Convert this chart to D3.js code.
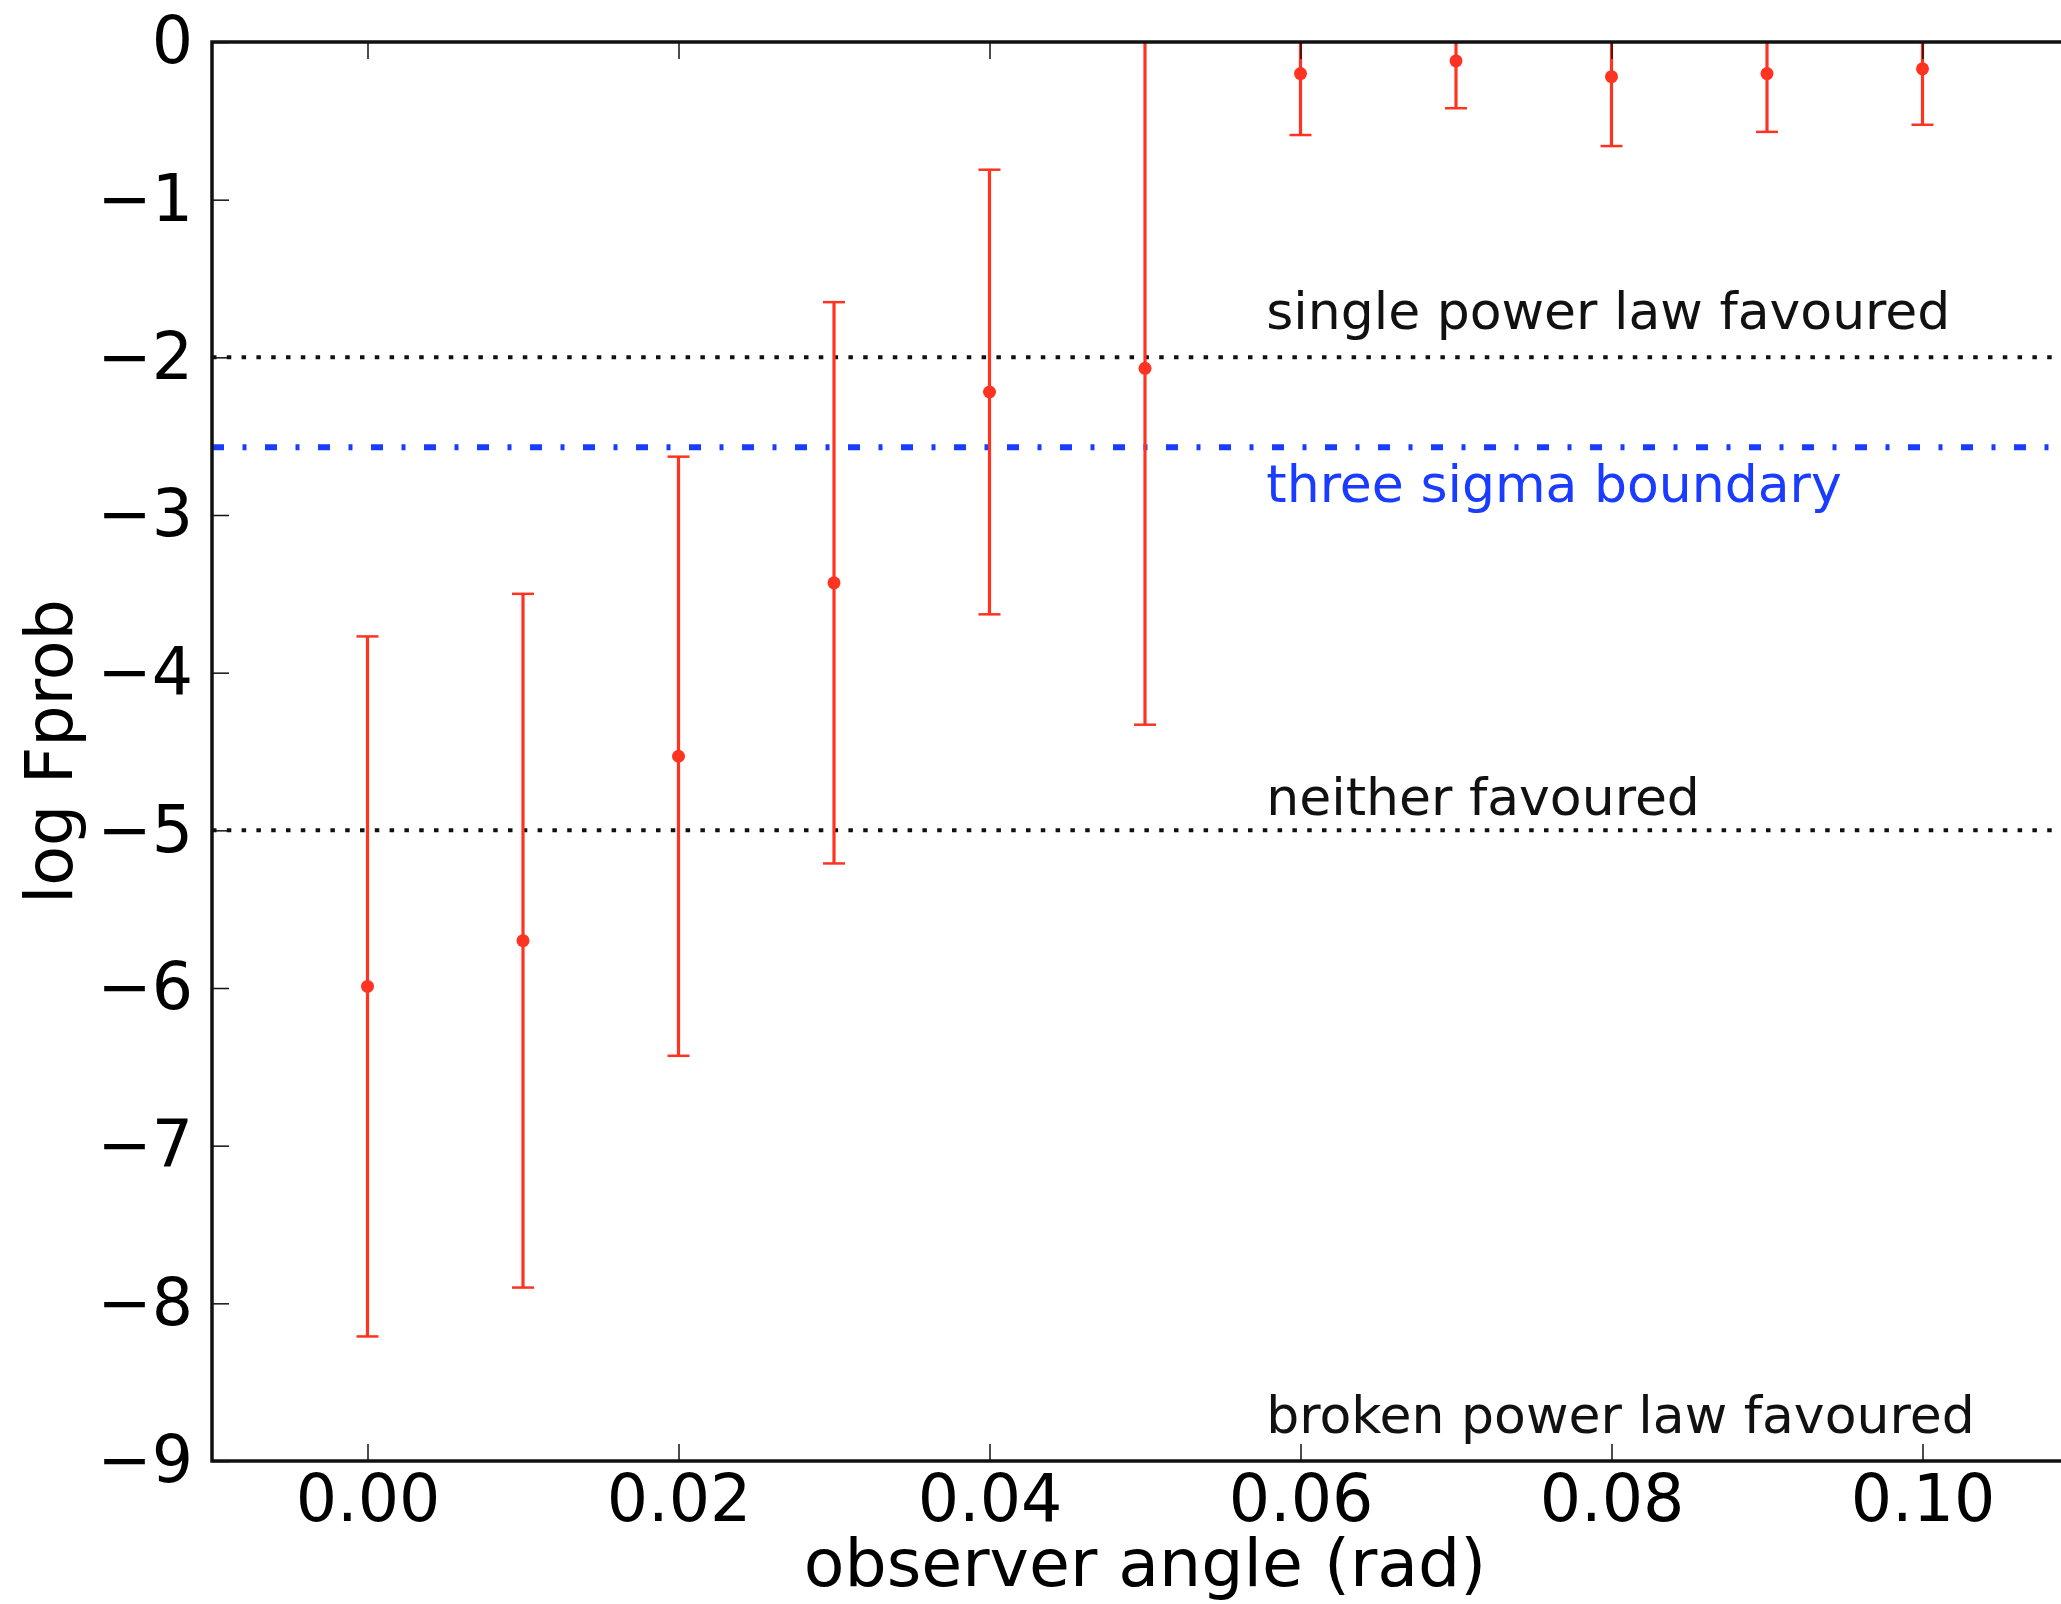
<!doctype html>
<html>
<head>
<meta charset="utf-8">
<script src="https://cdn.jsdelivr.net/npm/d3@7"></script>
<style>
  html, body { margin: 0; padding: 0; background: #fff; }
  svg { display: block; font-family: "DejaVu Sans", sans-serif; }
</style>
</head>
<body>
<script>
// Data.
const angles = [0.00, 0.01, 0.02, 0.03, 0.04, 0.05, 0.06, 0.07, 0.08, 0.09, 0.10];
const logFprob = [-5.99, -5.70, -4.53, -3.43, -2.22, -2.07, -0.20, -0.12, -0.22, -0.20, -0.17];
const errors = [2.22, 2.20, 1.90, 1.78, 1.41, 2.26, 0.39, 0.30, 0.44, 0.37, 0.355];

const xTicks = [0.00, 0.02, 0.04, 0.06, 0.08, 0.10];
const yTicks = [-9, -8, -7, -6, -5, -4, -3, -2, -1, 0];

// Reference lines and their labels.
const refLines = [
  {value: -2, kind: "dotted"},
  {value: -5, kind: "dotted"},
  {value: -2.57, kind: "dashdot"}
];
const notes = [
  {text: "single power law favoured", x: 0.0578, y: -1.82, blue: false},
  {text: "three sigma boundary", x: 0.0578, y: -2.92, blue: true},
  {text: "neither favoured", x: 0.0578, y: -4.9, blue: false},
  {text: "broken power law favoured", x: 0.0578, y: -8.82, blue: false}
];

const width = 2061;
const height = 1604;
const marginLeft = 212;
const marginTop = 42;
const plotBottom = 1461;

const x = d3.scaleLinear([-0.01, 0.11], [marginLeft, marginLeft + 0.12 * 15550]);
const y = d3.scaleLinear([-9, 0], [plotBottom, marginTop]);

const red = "#ff3322";
const blue = "#1a3cff";

const svg = d3.select("body").append("svg")
    .attr("width", width)
    .attr("height", height)
    .attr("viewBox", [0, 0, width, height]);

svg.append("clipPath").attr("id", "plot")
  .append("rect")
    .attr("x", x.range()[0])
    .attr("y", marginTop)
    .attr("width", x.range()[1] - x.range()[0])
    .attr("height", plotBottom - marginTop);

const plot = svg.append("g").attr("clip-path", "url(#plot)");

// Horizontal reference lines.
plot.append("g")
  .selectAll("line")
  .data(refLines)
  .join("line")
    .attr("x1", x.range()[0])
    .attr("x2", x.range()[1])
    .attr("y1", (d) => y(d.value))
    .attr("y2", (d) => y(d.value))
    .attr("stroke", (d) => d.kind === "dotted" ? "#111" : blue)
    .attr("stroke-width", (d) => d.kind === "dotted" ? 4 : 6)
    .attr("stroke-dasharray", (d) => d.kind === "dotted" ? "4.5 10.3" : "12 18.5 4 18.5");

// Error bars.
const bars = plot.append("g")
  .selectAll("g")
  .data(angles.map((a, i) => ({a, v: logFprob[i], e: errors[i]})))
  .join("g")
    .attr("stroke", red);

bars.append("line")
    .attr("x1", (d) => x(d.a))
    .attr("x2", (d) => x(d.a))
    .attr("y1", (d) => y(d.v - d.e))
    .attr("y2", (d) => y(d.v + d.e))
    .attr("stroke-width", 3.2);

bars.selectAll(".cap")
  .data((d) => [d.v - d.e, d.v + d.e].map((c) => ({a: d.a, c})))
  .join("line")
    .attr("class", "cap")
    .attr("x1", (d) => x(d.a) - 11)
    .attr("x2", (d) => x(d.a) + 11)
    .attr("y1", (d) => y(d.c))
    .attr("y2", (d) => y(d.c))
    .attr("stroke-width", 2.5);

bars.append("circle")
    .attr("cx", (d) => x(d.a))
    .attr("cy", (d) => y(d.v))
    .attr("r", 6.5)
    .attr("fill", red)
    .attr("stroke", "none");

// Annotations.
svg.append("g")
    .attr("font-size", 52)
  .selectAll("text")
  .data(notes)
  .join("text")
    .attr("x", (d) => x(d.x))
    .attr("y", (d) => y(d.y))
    .attr("fill", (d) => d.blue ? blue : "#111")
    .text((d) => d.text);

// Axes: inward ticks on all four sides, like matplotlib classic.
const tickLen = 17;
const fmtX = d3.format(".2f");
const fmtY = d3.format("d");

svg.append("g")
    .attr("transform", `translate(0,${plotBottom})`)
    .call(d3.axisBottom(x).tickValues(xTicks).tickFormat(fmtX).tickSizeInner(-tickLen).tickSizeOuter(0).tickPadding(14))
    .call((g) => g.select(".domain").remove());

svg.append("g")
    .attr("transform", `translate(0,${marginTop})`)
    .call(d3.axisTop(x).tickValues(xTicks).tickFormat("").tickSizeInner(-tickLen).tickSizeOuter(0))
    .call((g) => g.select(".domain").remove());

svg.append("g")
    .attr("transform", `translate(${marginLeft},0)`)
    .call(d3.axisLeft(y).tickValues(yTicks).tickFormat(fmtY).tickSizeInner(-tickLen).tickSizeOuter(0).tickPadding(19))
    .call((g) => g.select(".domain").remove());

svg.append("g")
    .attr("transform", `translate(${x.range()[1]},0)`)
    .call(d3.axisRight(y).tickValues(yTicks).tickFormat("").tickSizeInner(-tickLen).tickSizeOuter(0))
    .call((g) => g.select(".domain").remove());

svg.selectAll(".tick line").attr("stroke", "#111").attr("stroke-width", 1.5);
svg.selectAll(".tick text")
    .attr("font-family", "DejaVu Sans, sans-serif")
    .attr("font-size", 65)
    .attr("fill", "#000");

// Frame.
svg.append("rect")
    .attr("x", x.range()[0])
    .attr("y", marginTop)
    .attr("width", x.range()[1] - x.range()[0])
    .attr("height", plotBottom - marginTop)
    .attr("fill", "none")
    .attr("stroke", "#111")
    .attr("stroke-width", 3.5);

// Axis labels.
svg.append("text")
    .attr("x", (x.range()[0] + x.range()[1]) / 2)
    .attr("y", 1586)
    .attr("text-anchor", "middle")
    .attr("font-size", 66.5)
    .text("observer angle (rad)");

svg.append("text")
    .attr("transform", `translate(72,${(marginTop + plotBottom) / 2}) rotate(-90)`)
    .attr("text-anchor", "middle")
    .attr("font-size", 65)
    .text("log Fprob");
</script>
</body>
</html>
